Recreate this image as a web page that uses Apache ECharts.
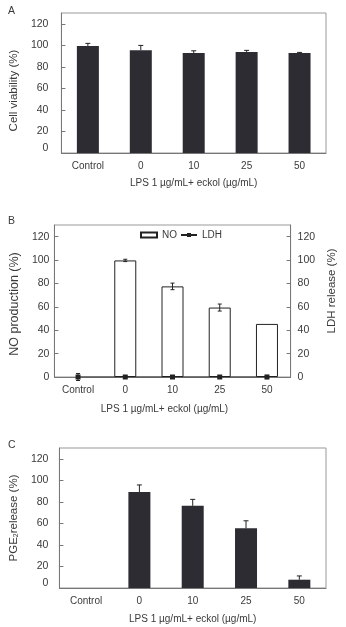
<!DOCTYPE html>
<html>
<head>
<meta charset="utf-8">
<script src="https://cdn.jsdelivr.net/npm/echarts@6/dist/echarts.min.js"></script>
<style>
  html, body { margin: 0; padding: 0; background: #fff; }
  #chart { width: 346px; height: 627px; }
</style>
</head>
<body>
<div id="chart"></div>
<script>
// categories (LPS 1 ug/mL + eckol ug/mL)
const categories = ['Control', '0', '10', '25', '50'];

// A - cell viability
const viability = [99.3, 95.4, 92.9, 93.8, 92.9];
const viabilityErr = [2.5, 4.5, 2, 1.5, 0.5];

// B - NO production and LDH release
const noProduction = ['-', 99.7, 77.5, 59.4, 45.4];
const noErr = [0, 1, 2.8, 3, 0];
const ldh = [0, 0, 0, 0, 0];
const ldhErr = [3, 0.6, 1, 0.6, 1.4];

// C - PGE2 release
const pge2 = ['-', 89.2, 76.3, 55.4, 7.7];
const pge2Err = [0, 6.5, 6, 7, 3.5];

const yTicks = { min: 0, max: 130, interval: 20 };

const sans = "'Liberation Sans', Arial, sans-serif";
const txtColor = '#3a3a3a';
const barColor = '#2c2c32';
const axisColor = '#777';

const errData = (vals, errs) => vals.map((v, i) => [i, v === '-' ? 0 : v, errs[i]]);

// upward only (T) error bar for dark bars, both ways (I) for open bars
const errRender = (both, capW) => function (params, api) {
    const i = api.value(0), v = api.value(1), e = api.value(2);
    if (!e) return null;
    const top = api.coord([i, v + e]);
    const bot = api.coord([i, both ? v - e : v]);
    const style = { stroke: '#222', lineWidth: 1 };
    const kids = [
        { type: 'line', shape: { x1: top[0], y1: top[1], x2: bot[0], y2: bot[1] }, style: style },
        { type: 'line', shape: { x1: top[0] - capW, y1: top[1], x2: top[0] + capW, y2: top[1] }, style: style }
    ];
    if (both) {
        kids.push({ type: 'line', shape: { x1: bot[0] - capW, y1: bot[1], x2: bot[0] + capW, y2: bot[1] }, style: style });
    }
    return { type: 'group', children: kids };
};

const xAxisBase = (gridIndex, gap, namePad) => ({
    type: 'category',
    gridIndex: gridIndex,
    data: categories,
    name: 'LPS 1 \u00b5g/mL+ eckol (\u00b5g/mL)',
    nameLocation: 'middle',
    nameGap: gap,
    nameTextStyle: { fontFamily: sans, fontSize: 10, color: txtColor, padding: namePad },
    axisLine: { lineStyle: { color: axisColor } },
    axisTick: { inside: true, length: 4, lineStyle: { color: axisColor } },
    axisLabel: { fontFamily: sans, fontSize: 10, color: txtColor, margin: 8 }
});

// the zero label sits a little above the baseline in panels A and C
const raisedZero = v => (v === 0 ? '{z|0}' : String(v));

const yAxisBase = (gridIndex, name, gap, margin, namePad, extra, lift) => Object.assign({
    type: 'value',
    gridIndex: gridIndex,
    min: yTicks.min,
    max: yTicks.max,
    interval: yTicks.interval,
    name: name,
    nameLocation: 'middle',
    nameGap: gap,
    nameRotate: 90,
    nameTextStyle: { fontFamily: sans, fontSize: 11.5, color: txtColor, padding: namePad },
    axisLine: { show: true, lineStyle: { color: axisColor } },
    axisTick: { show: true, inside: true, length: 4, lineStyle: { color: axisColor } },
    axisLabel: {
        fontFamily: sans, fontSize: 10.5, color: txtColor, margin: margin, showMaxLabel: false,
        formatter: lift ? raisedZero : null,
        rich: { z: { fontFamily: sans, fontSize: 10.5, color: txtColor, padding: [0, 0, 10, 0] } }
    },
    splitLine: { show: false }
}, extra || {});

const gridBox = { show: true, borderColor: '#999', borderWidth: 1, backgroundColor: 'transparent' };

const chart = echarts.init(document.getElementById('chart'));

const panelTitle = (text, top) => ({
    text: text, left: 3, top: top,
    textStyle: { fontFamily: sans, fontSize: 10.5, fontWeight: 'normal', color: txtColor }
});

const option = {
    backgroundColor: '#fff',
    animation: false,
    title: [panelTitle('A', 1), panelTitle('B', 211), panelTitle('C', 435)],
    legend: {
        left: 140,
        top: 230,
        itemWidth: 16,
        itemHeight: 5,
        itemGap: 3,
        padding: 0,
        textStyle: { fontFamily: sans, fontSize: 10, color: txtColor },
        data: [
            { name: 'NO', icon: 'rect' },
            { name: 'LDH' }
        ]
    },
    grid: [
        Object.assign({ left: 48, top: 13, width: 278, height: 140 }, gridBox),
        Object.assign({ left: 38, top: 225, width: 270, height: 152 }, gridBox),
        Object.assign({ left: 48, top: 448, width: 278, height: 140 }, gridBox)
    ],
    xAxis: [
        xAxisBase(0, 25, [0, 0, 0, 0]),
        xAxisBase(1, 27, [0, 16, 0, 0]),
        xAxisBase(2, 26, [0, 0, 0, 0])
    ],
    yAxis: [
        yAxisBase(0, 'Cell viability (%)', 35, 13, [0, 15, 0, 0], null, true),
        yAxisBase(1, 'NO production (%)', 26, 5, [0, 6, 0, 0], { nameTextStyle: { fontFamily: sans, fontSize: 12.5, color: txtColor, padding: [0, 6, 0, 0] } }),
        yAxisBase(1, 'LDH release (%)', 29, 7, [0, 0, 0, 20], { position: 'right' }),
        yAxisBase(2, 'PGE{sub|2}release (%)', 35, 11, [0, 0, 0, 0], {
            nameTextStyle: {
                fontFamily: sans, fontSize: 11.5, color: txtColor,
                rich: {
                    sub: { fontFamily: sans, fontSize: 7, color: txtColor, verticalAlign: 'bottom', padding: [5, 0, 0, 0] }
                }
            }
        }, true)
    ],
    series: [
        {
            name: 'Viability', type: 'bar', xAxisIndex: 0, yAxisIndex: 0,
            barWidth: 22, data: viability,
            itemStyle: { color: barColor }
        },
        {
            type: 'custom', xAxisIndex: 0, yAxisIndex: 0,
            renderItem: errRender(false, 2.5), data: errData(viability, viabilityErr), z: 5
        },
        {
            name: 'NO', type: 'bar', xAxisIndex: 1, yAxisIndex: 1,
            barWidth: 22, data: noProduction,
            itemStyle: { color: '#fff', borderColor: '#222', borderWidth: 1 }
        },
        {
            type: 'custom', xAxisIndex: 1, yAxisIndex: 1,
            renderItem: errRender(true, 2), data: errData(noProduction, noErr), z: 5
        },
        {
            name: 'LDH', type: 'line', xAxisIndex: 1, yAxisIndex: 2,
            data: ldh, symbol: 'rect', symbolSize: 5,
            lineStyle: { color: '#222', width: 1 },
            itemStyle: { color: '#222' }, z: 6
        },
        {
            type: 'custom', xAxisIndex: 1, yAxisIndex: 2,
            renderItem: errRender(true, 2), data: errData(ldh, ldhErr), z: 6
        },
        {
            name: 'PGE2', type: 'bar', xAxisIndex: 2, yAxisIndex: 3,
            barWidth: 22, data: pge2,
            itemStyle: { color: barColor }
        },
        {
            type: 'custom', xAxisIndex: 2, yAxisIndex: 3,
            renderItem: errRender(false, 2.5), data: errData(pge2, pge2Err), z: 5
        }
    ]
};

chart.setOption(option);
</script>
</body>
</html>
